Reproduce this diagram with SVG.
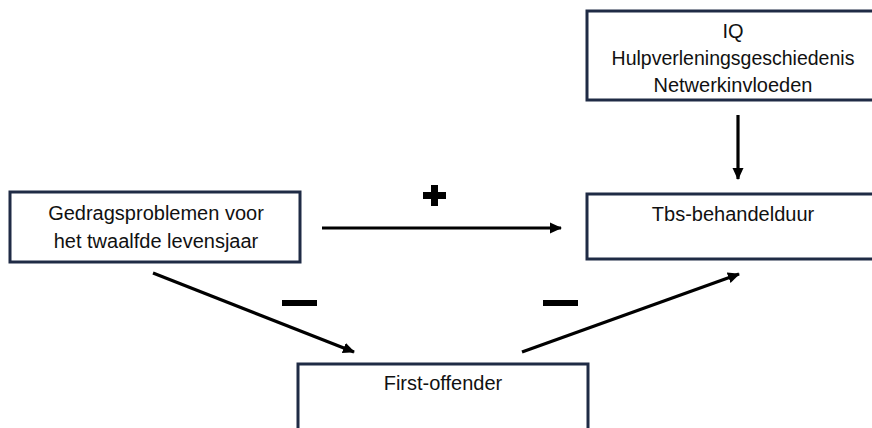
<svg xmlns="http://www.w3.org/2000/svg" width="872" height="428" viewBox="0 0 872 428">
<defs>
<style>
.box{fill:#fff;stroke:#1f2b45;stroke-width:3}
.lbl{font-family:"Liberation Sans",Arial,sans-serif;font-size:20px;fill:#111;text-anchor:middle}
.con{stroke:#000;stroke-width:3.2;fill:none;marker-end:url(#ah)}
.sign{fill:#000}
</style>
<marker id="ah" viewBox="0 0 12 12" refX="11" refY="6" markerWidth="12" markerHeight="12" markerUnits="userSpaceOnUse" orient="auto">
<path d="M0,0.5 L12,6 L0,11.5 Z" fill="#000"/>
</marker>
</defs>
<rect width="872" height="428" fill="#fff"/>
<g id="node-factors">
<rect class="box" x="587" y="11" width="292" height="89"/>
<text class="lbl" x="733" y="38">IQ</text>
<text class="lbl" x="733" y="65" style="font-size:19.5px">Hulpverleningsgeschiedenis</text>
<text class="lbl" x="733" y="92">Netwerkinvloeden</text>
</g>
<g id="node-gedrag">
<rect class="box" x="10" y="192" width="290" height="70"/>
<text class="lbl" x="156" y="220">Gedragsproblemen voor</text>
<text class="lbl" x="156" y="248">het twaalfde levensjaar</text>
</g>
<g id="node-tbs">
<rect class="box" x="587" y="194" width="292" height="65"/>
<text class="lbl" x="733" y="221">Tbs-behandelduur</text>
</g>
<g id="node-first">
<rect class="box" x="298" y="364" width="290" height="80"/>
<text class="lbl" x="443" y="390">First-offender</text>
</g>
<g id="connectors">
<line class="con" x1="738" y1="115" x2="738" y2="179"/>
<line class="con" x1="322" y1="228" x2="561" y2="228"/>
<line class="con" x1="153" y1="273" x2="354" y2="352"/>
<line class="con" x1="522" y1="352" x2="739" y2="274"/>
<g id="signs">
<rect class="sign" x="423" y="192" width="23" height="7"/>
<rect class="sign" x="431" y="185" width="7" height="21"/>
<rect class="sign" x="282" y="300" width="35" height="6"/>
<rect class="sign" x="543" y="300" width="35" height="6"/>
</g>
</g>
</svg>
